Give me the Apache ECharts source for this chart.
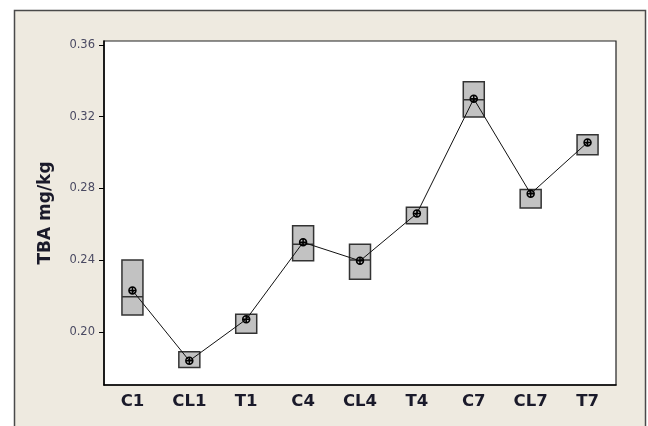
<!DOCTYPE html>
<html>
<head>
<meta charset="utf-8">
<script src="https://cdn.jsdelivr.net/npm/echarts@6/dist/echarts.min.js"></script>
<style>
html,body{margin:0;padding:0;background:#fff;}
#chart{width:648px;height:426px;}
</style>
</head>
<body>
<div id="chart"></div>
<script>
var categories = ['C1','CL1','T1','C4','CL4','T4','C7','CL7','T7'];
var boxLow  = [0.2095, 0.1803, 0.1993, 0.2397, 0.2295, 0.2604, 0.3198, 0.2692, 0.2988];
var boxHigh = [0.2401, 0.1890, 0.2099, 0.2592, 0.2489, 0.2696, 0.3395, 0.2794, 0.3100];
var medians = [0.2197, 0.1803, 0.1993, 0.2489, 0.2401, 0.2604, 0.3295, 0.2692, 0.2988];
var means   = [0.2232, 0.1840, 0.2071, 0.2500, 0.2397, 0.2661, 0.3300, 0.2771, 0.3057];
var yTicks  = [0.20, 0.24, 0.28, 0.32, 0.36];

var boxData = categories.map(function(c, i){
  return [boxLow[i], boxLow[i], medians[i], boxHigh[i], boxHigh[i]];
});

var chart = echarts.init(document.getElementById('chart'), null, {renderer:'canvas'});
chart.setOption({
  animation: false,
  backgroundColor: '#ffffff',
  graphic: [{
    type: 'rect', z: -10, silent: true,
    shape: {x: 14.5, y: 10.5, width: 631, height: 440},
    style: {fill: '#EEEAE0', stroke: '#4a4a4a', lineWidth: 1.5}
  }],
  grid: {
    left: 104, top: 41, right: 32, bottom: 41,
    show: true, backgroundColor: '#ffffff', borderColor: '#222', borderWidth: 1.2
  },
  xAxis: {
    type: 'category',
    data: categories,
    boundaryGap: true,
    axisLine: {lineStyle: {color: '#000', width: 1.5}},
    axisTick: {alignWithLabel: true, length: 4, lineStyle: {color: '#000'}},
    axisLabel: {
      margin: 8, color: '#1a1a2a',
      fontFamily: 'DejaVu Sans', fontWeight: 'bold', fontSize: 16.5
    },
    splitLine: {show: false}
  },
  yAxis: {
    type: 'value',
    min: 0.1705, max: 0.3622,
    name: 'TBA mg/kg',
    nameLocation: 'middle',
    nameGap: 50,
    nameTextStyle: {fontFamily: 'DejaVu Sans', fontWeight: 'bold', fontSize: 17, color: '#1a1a2a'},
    axisLine: {show: true, lineStyle: {color: '#000', width: 1.5}},
    axisTick: {show: true, length: 5, customValues: yTicks, lineStyle: {color: '#000'}},
    axisLabel: {
      customValues: yTicks, margin: 9, color: '#4a4a62',
      fontFamily: 'DejaVu Sans', fontSize: 11.5,
      formatter: function(v){ return v.toFixed(2); }
    },
    splitLine: {show: false}
  },
  series: [{
    type: 'boxplot',
    data: boxData,
    boxWidth: [21, 21],
    itemStyle: {color: '#C2C2C2', borderColor: '#333', borderWidth: 1.5},
    z: 2
  }, {
    type: 'line',
    data: means,
    symbol: 'path://M5,0 A5,5 0 1,1 4.99,0 Z M5,0 L5,10 M0,5 L10,5',
    symbolSize: 7,
    lineStyle: {color: '#111', width: 1},
    itemStyle: {color: 'rgba(0,0,0,0)', borderColor: '#000', borderWidth: 1.5},
    z: 3
  }]
});
</script>
</body>
</html>
